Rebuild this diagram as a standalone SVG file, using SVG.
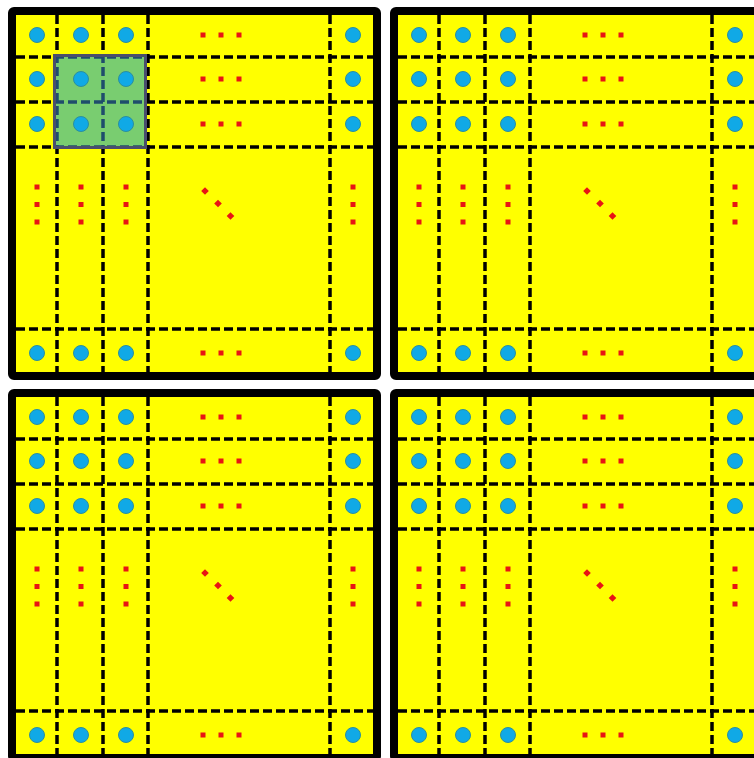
<svg xmlns="http://www.w3.org/2000/svg" xmlns:xlink="http://www.w3.org/1999/xlink" width="754" height="758" viewBox="0 0 754 758">
<style>
.bg{fill:#ffff00}
.frame{fill:none;stroke:#000;stroke-width:8}
.dl{stroke-width:3.5;stroke-dasharray:9 4;fill:none}
.c{fill:#10a9e6;stroke:#2b8f9e;stroke-width:1}
.rd{fill:#e81414}
</style>
<defs>
<g id="gridlines">
<line class="dl" x1="57" y1="15" x2="57" y2="377"/>
<line class="dl" x1="103" y1="15" x2="103" y2="377"/>
<line class="dl" x1="148" y1="15" x2="148" y2="377"/>
<line class="dl" x1="330" y1="15" x2="330" y2="377"/>
<line class="dl" x1="16" y1="57" x2="378" y2="57"/>
<line class="dl" x1="16" y1="102" x2="378" y2="102"/>
<line class="dl" x1="16" y1="147" x2="378" y2="147"/>
<line class="dl" x1="16" y1="329" x2="378" y2="329"/>
</g>
<g id="marks">
<circle class="c" cx="37" cy="35" r="7.5"/><circle class="c" cx="81" cy="35" r="7.5"/><circle class="c" cx="126" cy="35" r="7.5"/><circle class="c" cx="353" cy="35" r="7.5"/>
<circle class="c" cx="37" cy="79" r="7.5"/><circle class="c" cx="81" cy="79" r="7.5"/><circle class="c" cx="126" cy="79" r="7.5"/><circle class="c" cx="353" cy="79" r="7.5"/>
<circle class="c" cx="37" cy="124" r="7.5"/><circle class="c" cx="81" cy="124" r="7.5"/><circle class="c" cx="126" cy="124" r="7.5"/><circle class="c" cx="353" cy="124" r="7.5"/>
<circle class="c" cx="37" cy="353" r="7.5"/><circle class="c" cx="81" cy="353" r="7.5"/><circle class="c" cx="126" cy="353" r="7.5"/><circle class="c" cx="353" cy="353" r="7.5"/>
<g class="rd">
<rect x="200.5" y="32.5" width="5" height="5"/><rect x="218.5" y="32.5" width="5" height="5"/><rect x="236.5" y="32.5" width="5" height="5"/>
<rect x="200.5" y="76.5" width="5" height="5"/><rect x="218.5" y="76.5" width="5" height="5"/><rect x="236.5" y="76.5" width="5" height="5"/>
<rect x="200.5" y="121.5" width="5" height="5"/><rect x="218.5" y="121.5" width="5" height="5"/><rect x="236.5" y="121.5" width="5" height="5"/>
<rect x="200.5" y="350.5" width="5" height="5"/><rect x="218.5" y="350.5" width="5" height="5"/><rect x="236.5" y="350.5" width="5" height="5"/>
<rect x="34.5" y="184.5" width="5" height="5"/><rect x="34.5" y="202" width="5" height="5"/><rect x="34.5" y="219.5" width="5" height="5"/>
<rect x="78.5" y="184.5" width="5" height="5"/><rect x="78.5" y="202" width="5" height="5"/><rect x="78.5" y="219.5" width="5" height="5"/>
<rect x="123.5" y="184.5" width="5" height="5"/><rect x="123.5" y="202" width="5" height="5"/><rect x="123.5" y="219.5" width="5" height="5"/>
<rect x="350.5" y="184.5" width="5" height="5"/><rect x="350.5" y="202" width="5" height="5"/><rect x="350.5" y="219.5" width="5" height="5"/>
<rect x="-2.7" y="-2.7" width="5.4" height="5.4" transform="translate(205 191) rotate(45)"/>
<rect x="-2.7" y="-2.7" width="5.4" height="5.4" transform="translate(218 203.5) rotate(45)"/>
<rect x="-2.7" y="-2.7" width="5.4" height="5.4" transform="translate(230.5 216) rotate(45)"/>
</g>
</g>
<clipPath id="hl"><rect x="56" y="57" width="88" height="89"/></clipPath>
</defs>

<g id="panel-top-left">
<rect class="bg" x="12" y="11" width="365" height="365"/>
<use xlink:href="#gridlines" stroke="#000"/>
<rect id="highlight" x="54.5" y="55.5" width="91" height="92" fill="#79cd70"/>
<use xlink:href="#gridlines" stroke="#1f4d6c" clip-path="url(#hl)"/>
<rect x="54.5" y="55.5" width="91" height="92" fill="none" stroke="#4a4f6c" stroke-width="3"/>
<use xlink:href="#marks"/>
<rect class="frame" x="12" y="11" width="365" height="365" rx="2"/>
</g>

<g id="panel-top-right" transform="translate(382 0)">
<rect class="bg" x="12" y="11" width="365" height="365"/>
<use xlink:href="#gridlines" stroke="#000"/>
<use xlink:href="#marks"/>
<rect class="frame" x="12" y="11" width="365" height="365" rx="2"/>
</g>

<g id="panel-bottom-left" transform="translate(0 382)">
<rect class="bg" x="12" y="11" width="365" height="365"/>
<use xlink:href="#gridlines" stroke="#000"/>
<use xlink:href="#marks"/>
<rect class="frame" x="12" y="11" width="365" height="365" rx="2"/>
</g>

<g id="panel-bottom-right" transform="translate(382 382)">
<rect class="bg" x="12" y="11" width="365" height="365"/>
<use xlink:href="#gridlines" stroke="#000"/>
<use xlink:href="#marks"/>
<rect class="frame" x="12" y="11" width="365" height="365" rx="2"/>
</g>
</svg>
